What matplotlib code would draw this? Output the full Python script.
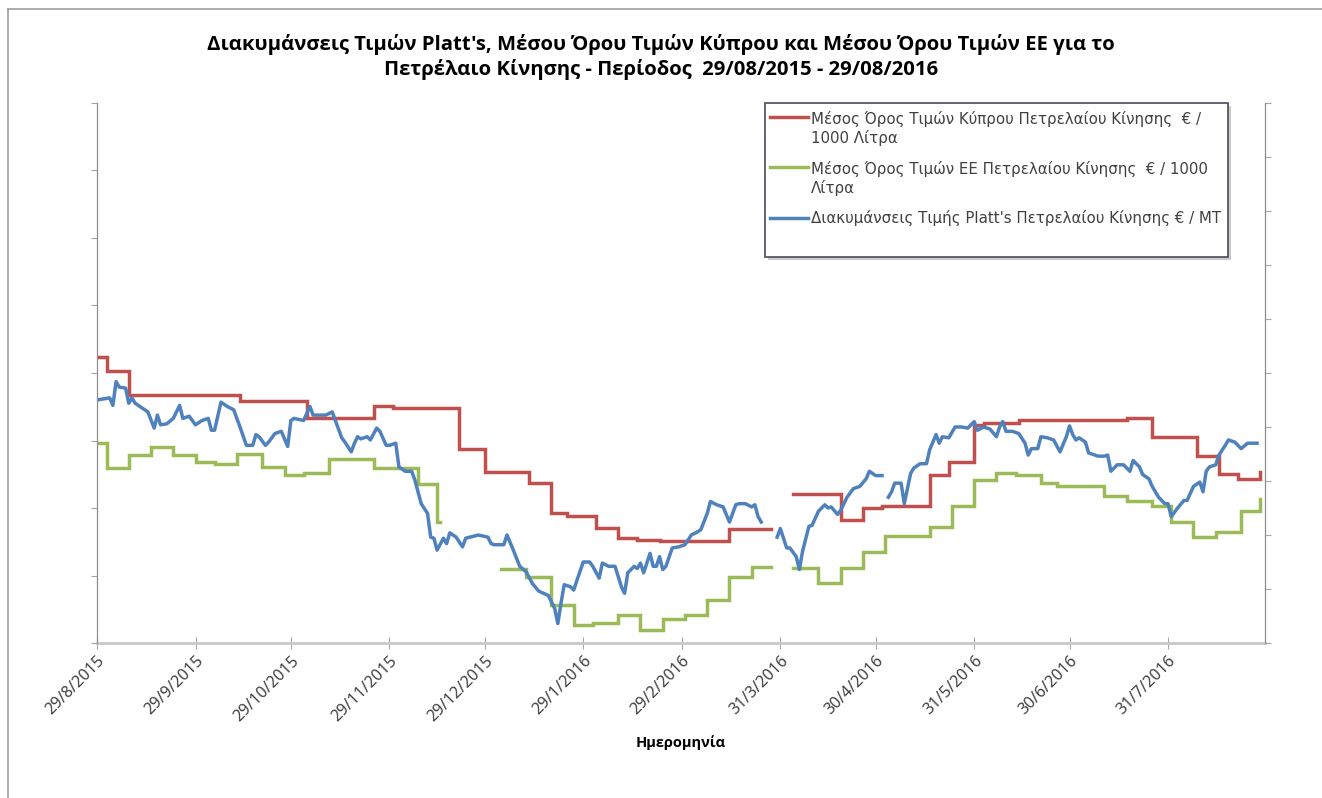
import numpy as np
import pandas as pd
import matplotlib
matplotlib.use("Agg")
import matplotlib.pyplot as plt
from matplotlib.lines import Line2D
from matplotlib.patches import Rectangle

plt.rcParams['font.family'] = ['Noto Sans', 'DejaVu Sans']

nan = np.nan
start = pd.Timestamp('2015-08-29')

# ---- Cyprus average diesel price (EUR / 1000 L), weekly levels (day offsets from 29/8/2015)
red_day = [0, 3, 10, 45, 66, 87, 93, 114, 122, 136, 143, 148, 157, 164, 170, 177, 199, 212,
           219, 234, 241, 247, 262, 268, 276, 279, 290, 324, 332, 346, 353, 359, 366]
red_val = [1224, 1203, 1167, 1159, 1134, 1151, 1148, 1087, 1053, 1037, 993, 988, 970, 956, 953, 951, 969, nan,
           1021, 982, 1000, 1003, 1049, 1068, 1123, 1126, 1130, 1133, 1105, 1077, 1050, 1043, 1053]

# ---- EU average diesel price (EUR / 1000 L)
green_day = [0, 3, 10, 17, 24, 31, 37, 44, 52, 59, 65, 73, 87, 101, 107, 108, 127, 135, 143, 150,
             156, 164, 171, 178, 185, 192, 199, 206, 212, 219, 227, 234, 241, 248, 262, 269, 276, 283, 289, 297,
             302, 317, 324, 332, 338, 345, 352, 360, 366]
green_val = [1096, 1059, 1079, 1090, 1079, 1068, 1065, 1080, 1061, 1049, 1052, 1073, 1059, 1036, 979, nan, 910, 898, 856, 827,
             830, 841, 819, 836, 841, 864, 898, 913, nan, 911, 889, 911, 935, 959, 972, 1003, 1041, 1052, 1049, 1037,
             1033, 1018, 1010, 1003, 979, 957, 964, 996, 1013]

# ---- Platt's diesel (EUR / MT)
blue_day = [0, 4, 5, 6, 7, 9, 10, 11, 12, 15, 16, 18, 19, 20, 22, 24, 26, 27, 29, 31,
            33, 35, 36, 37, 39, 41, 43, 45, 47, 49, 50, 51, 53, 54, 56, 58, 60, 61, 62, 65,
            67, 68, 72, 74, 75, 77, 78, 80, 81, 82, 83, 85, 86, 88, 89, 91, 92, 94, 95, 97,
            99, 100, 102, 104, 105, 106, 107, 109, 110, 111, 113, 115, 116, 120, 123, 124, 125, 128, 129, 131,
            133, 135, 137, 139, 142, 144, 145, 146, 147, 149, 150, 151, 153, 155, 156, 158, 159, 161, 163, 165,
            166, 167, 169, 170, 171, 172, 174, 175, 176, 177, 178, 179, 181, 183, 185, 187, 189, 190, 192, 193,
            195, 197, 199, 201, 202, 204, 206, 207, 208, 209, 211, 214, 215, 217, 218, 220, 221, 222, 224, 225,
            227, 229, 230, 231, 233, 234, 236, 238, 240, 242, 243, 245, 247, 248, 249, 250, 251, 253, 254, 256,
            257, 259, 261, 262, 264, 265, 266, 268, 270, 272, 274, 276, 277, 279, 281, 283, 284, 285, 286, 288,
            290, 292, 293, 294, 296, 297, 299, 301, 303, 305, 306, 307, 308, 309, 311, 312, 314, 315, 317, 318,
            319, 321, 323, 325, 326, 328, 329, 331, 332, 334, 336, 337, 338, 340, 342, 343, 345, 347, 348, 349,
            350, 352, 353, 355, 356, 358, 359, 360, 362, 363, 365]
blue_val = [425, 427, 420, 442, 437, 436, 422, 427, 422, 416, 414, 399, 411, 402, 403, 408, 420, 408, 410, 402,
            406, 408, 397, 397, 423, 419, 416, 400, 383, 383, 393, 391, 383, 386, 394, 396, 382, 406, 408, 406,
            419, 411, 411, 414, 406, 390, 386, 377, 385, 391, 389, 391, 388, 399, 396, 383, 383, 385, 363, 359,
            359, 351, 329, 320, 298, 297, 286, 297, 292, 302, 298, 289, 297, 300, 298, 292, 291, 291, 300, 286,
            271, 266, 255, 248, 244, 232, 218, 237, 254, 252, 249, 258, 275, 275, 271, 260, 274, 271, 271, 252,
            246, 265, 271, 269, 274, 265, 283, 271, 271, 280, 268, 271, 288, 289, 291, 300, 303, 305, 320, 331,
            328, 326, 312, 328, 329, 329, 326, 328, 317, 312, nan, 298, 306, 288, 288, 280, 268, 285, 308, 309,
            322, 328, 325, 326, 319, 323, 335, 343, 345, 352, 359, 355, 355, nan, 335, 340, 348, 348, 329, 357,
            362, 366, 366, 379, 393, 385, 391, 390, 400, 400, 399, 405, 397, 400, 398, 391, 400, 405, 396, 396,
            394, 385, 374, 380, 380, 391, 390, 388, 377, 391, 401, 393, 388, 390, 386, 376, 374, 373, 373, 374,
            359, 365, 365, 359, 369, 363, 356, 352, 345, 335, 329, 329, 317, 325, 332, 332, 345, 349, 340, 359,
            363, 365, 374, 383, 388, 386, 383, 380, 385, 385, 385]

tick_labels = ['29/8/2015', '29/9/2015', '29/10/2015', '29/11/2015', '29/12/2015', '29/1/2016',
               '29/2/2016', '31/3/2016', '30/4/2016', '31/5/2016', '30/6/2016', '31/7/2016']

labels = ['Μέσος Όρος Τιμών Κύπρου Πετρελαίου Κίνησης  € /\n1000 Λίτρα',
          'Μέσος Όρος Τιμών ΕΕ Πετρελαίου Κίνησης  € / 1000\nΛίτρα',
          "Διακυμάνσεις Τιμής Platt's Πετρελαίου Κίνησης € / MT"]
colors = ['#C0504D', '#9BBB59', '#4F81BD']

red_dates = start + pd.to_timedelta(red_day, unit='D')
green_dates = start + pd.to_timedelta(green_day, unit='D')
blue_dates = start + pd.to_timedelta(blue_day, unit='D')
tick_dates = pd.to_datetime(tick_labels, format='%d/%m/%Y')

W, H = 1322, 798
fig = plt.figure(figsize=(W / 100, H / 100), dpi=100)
ax = fig.add_axes([97 / W, 1 - 643 / H, (1265 - 97) / W, (643 - 103) / H])
ax2 = ax.twinx()

lw = 2.5
ax.plot(red_dates, red_val, drawstyle='steps-post', color=colors[0], lw=lw, solid_joinstyle='miter')
ax.plot(green_dates, green_val, drawstyle='steps-post', color=colors[1], lw=lw, solid_joinstyle='miter')
ax2.plot(blue_dates, blue_val, color=colors[2], lw=lw, solid_joinstyle='round')

ax.set_xlim(start, start + pd.Timedelta(days=367.5))
ax.set_ylim(800, 1600)
ax.set_yticks(np.arange(800, 1601, 100))
ax2.set_ylim(200, 700)
ax2.set_yticks(np.arange(200, 701, 50))

ax.set_xticks(tick_dates)
ax.set_xticklabels(tick_labels, rotation=45, ha='right', rotation_mode='anchor',
                   fontsize=11.5, color='#404040')
ax.tick_params(axis='x', direction='inout', length=8, color='#A6A6A6', pad=3)
ax.tick_params(axis='y', direction='out', length=4, color='#A6A6A6', labelleft=False)
ax2.tick_params(axis='y', direction='out', length=4, color='#A6A6A6', labelright=False)

for a in (ax, ax2):
    a.spines['top'].set_visible(False)
    a.spines['left'].set_color('#8C8C8C')
    a.spines['right'].set_color('#8C8C8C')
    a.spines['bottom'].set_color('#C8C8C8')
    a.spines['bottom'].set_linewidth(2)
ax2.spines['bottom'].set_visible(False)

ax.set_xlabel('Ημερομηνία', fontsize=10.5, fontweight='bold', color='#000000',
              family=['Open Sans', 'DejaVu Sans'])
ax.xaxis.set_label_coords(0.5, (643 - 735) / 540)

# multi-line text with va='baseline' is anchored on the baseline of its last line
fig.text(0.5, 1 - 75 / H, "Διακυμάνσεις Τιμών Platt's, Μέσου Όρου Τιμών Κύπρου και Μέσου Όρου Τιμών ΕΕ για το\n"
         "Πετρέλαιο Κίνησης - Περίοδος  29/08/2015 - 29/08/2016",
         ha='center', va='baseline', fontsize=14.6, fontweight='bold', color='#000000', linespacing=1.25,
         family=['Open Sans', 'DejaVu Sans'])

# ---- legend box (drawn in figure pixel space)
tr = fig.transFigure
def fx(x):
    return x / W
def fy(y):
    return 1 - y / H
fig.patches.append(Rectangle((fx(768), fy(260)), fx(1228) - fx(765), fy(103) - fy(257),
                             transform=tr, facecolor='#9A9A9A', edgecolor='none', alpha=0.5, zorder=5))
fig.patches.append(Rectangle((fx(765), fy(257)), fx(1228) - fx(765), fy(103) - fy(257),
                             transform=tr, facecolor='white', edgecolor='#4A4A5A', lw=1.2, zorder=6))
entry_y = [117, 167, 218]
for yy, lab, c in zip(entry_y, labels, colors):
    nlines = lab.count('\n')
    fig.lines.append(Line2D([fx(770), fx(808)], [fy(yy), fy(yy)], transform=tr, color=c, lw=lw, zorder=7))
    fig.text(fx(811), fy(yy + 4.5 + 21 * nlines), lab, ha='left', va='baseline', fontsize=10.8, color='#404040',
             family=['DejaVu Sans'], linespacing=1.2, zorder=8)

# ---- outer chart border
fig.lines.append(Line2D([fx(8), fx(W)], [fy(9), fy(9)], transform=tr, color='#A0A0A0', lw=1.2))
fig.lines.append(Line2D([fx(8), fx(8)], [fy(9), fy(H)], transform=tr, color='#A0A0A0', lw=1.2))

fig.savefig('out.png', dpi=100)
